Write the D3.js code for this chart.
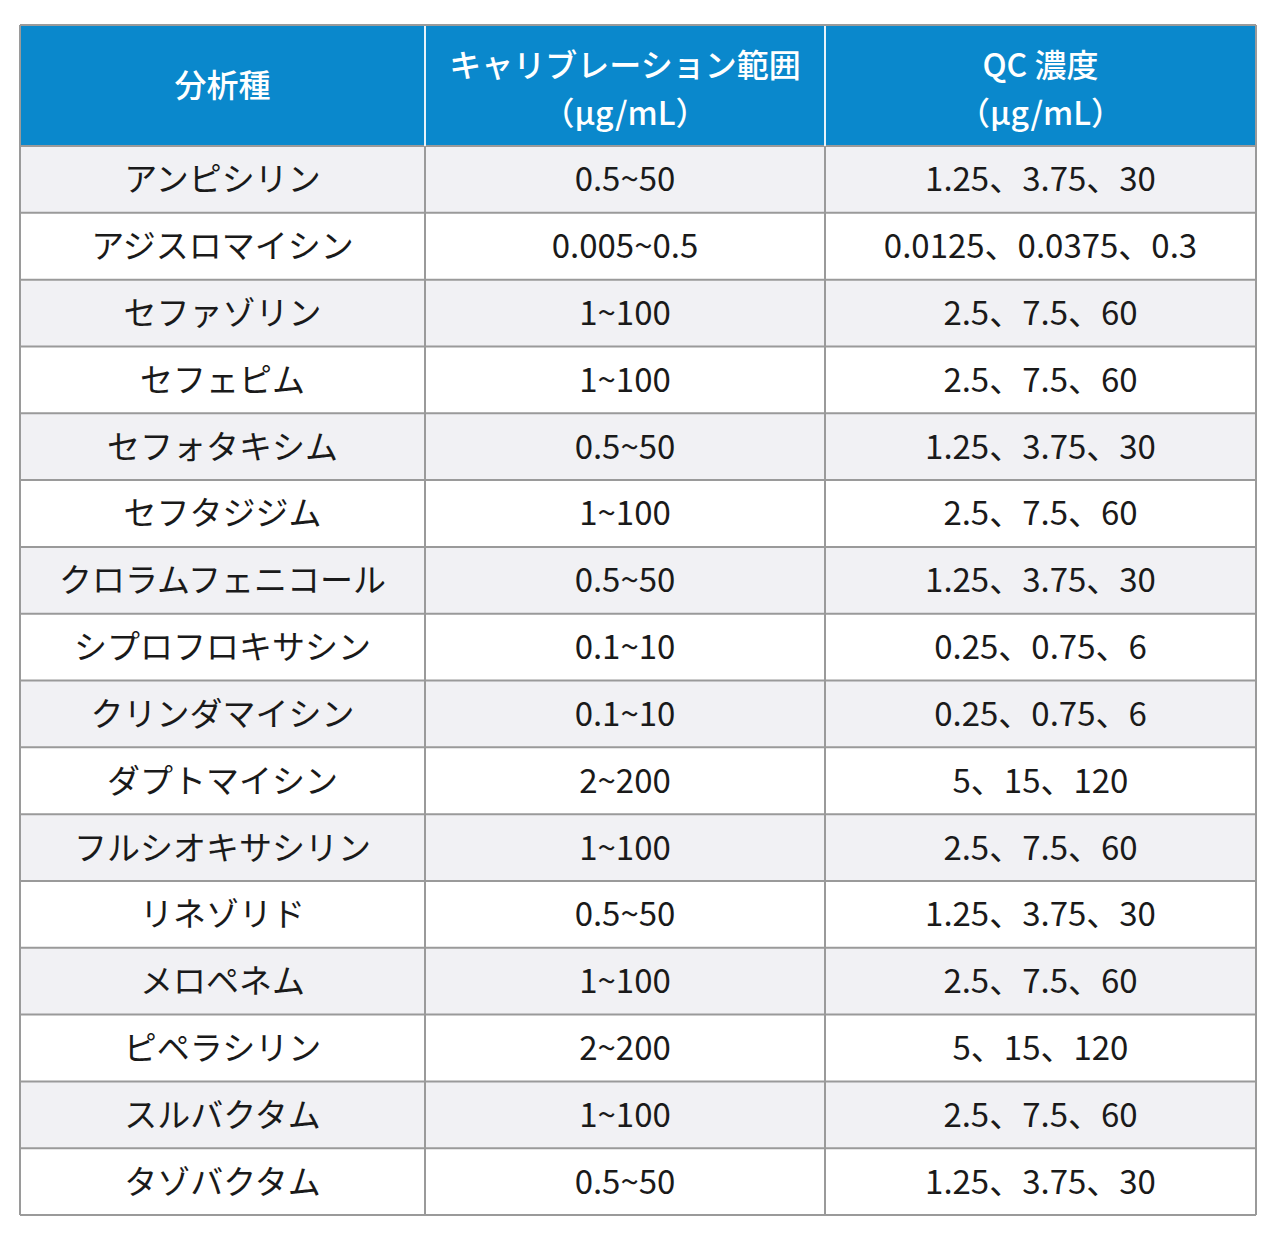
<!DOCTYPE html>
<html><head><meta charset="utf-8">
<script src="https://cdn.jsdelivr.net/npm/d3@7"></script>
<style>body{margin:0;background:#fff}</style>
</head><body>
<svg id="chart" width="1280" height="1247"></svg>
<script>
// table data
var headers = [["分析種"], ["キャリブレーション範囲", "（µg/mL）"], ["QC 濃度", "（µg/mL）"]];
var analytes = ["アンピシリン","アジスロマイシン","セファゾリン","セフェピム","セフォタキシム","セフタジジム",
  "クロラムフェニコール","シプロフロキサシン","クリンダマイシン","ダプトマイシン","フルシオキサシリン",
  "リネゾリド","メロペネム","ピペラシリン","スルバクタム","タゾバクタム"];
var calRange = ["0.5~50","0.005~0.5","1~100","1~100","0.5~50","1~100","0.5~50","0.1~10","0.1~10",
  "2~200","1~100","0.5~50","1~100","2~200","1~100","0.5~50"];
var qcConc = ["1.25、3.75、30","0.0125、0.0375、0.3","2.5、7.5、60","2.5、7.5、60","1.25、3.75、30",
  "2.5、7.5、60","1.25、3.75、30","0.25、0.75、6","0.25、0.75、6","5、15、120","2.5、7.5、60",
  "1.25、3.75、30","2.5、7.5、60","5、15、120","2.5、7.5、60","1.25、3.75、30"];

var svg = d3.select("#chart");
var tLeft = 20, tRight = 1256, tTop = 25, headH = 121, tBottom = 1215;
var colEdges = [tLeft, 425, 825, tRight];
var font = "'Noto Sans CJK JP', 'Noto Sans', sans-serif";

var y = d3.scaleBand().domain(d3.range(analytes.length)).range([tTop + headH, tBottom]);

//Header
svg.append("rect").attr("x", tLeft).attr("y", tTop).attr("width", tRight - tLeft).attr("height", headH)
  .attr("fill", "#0a88cc");
headers.forEach(function(h, i) {
  var cx = (colEdges[i] + colEdges[i + 1]) / 2;
  var t = svg.append("text").attr("x", cx).attr("text-anchor", "middle")
    .attr("fill", "#fff").style("font-family", font).style("font-size", "32px").style("font-weight", 500);
  if (h.length == 1) {
    t.append("tspan").attr("x", cx).attr("y", tTop + headH / 2 + 11).text(h[0]);
  } else {
    t.append("tspan").attr("x", cx).attr("y", tTop + 52).text(h[0]);
    t.append("tspan").attr("x", cx).attr("y", tTop + 100).text(h[1]);
  }
});

//Body rows
svg.selectAll(".row").data(analytes).enter().append("rect").attr("class", "row")
  .attr("x", tLeft).attr("y", function(d, i) { return y(i); })
  .attr("width", tRight - tLeft).attr("height", y.bandwidth())
  .attr("fill", function(d, i) { return i % 2 == 0 ? "#f1f1f4" : "#fff"; });

var cols = [analytes, calRange, qcConc];
cols.forEach(function(arr, c) {
  var cx = (colEdges[c] + colEdges[c + 1]) / 2;
  svg.selectAll(".col" + c).data(arr).enter().append("text").attr("class", "col" + c)
    .attr("x", cx).attr("y", function(d, i) { return y(i) + y.bandwidth() / 2 + 12; })
    .attr("text-anchor", "middle").attr("fill", "#1a1a1a")
    .style("font-family", font).style("font-size", "33px").text(function(d) { return d; });
});

//Grid lines
svg.selectAll(".hline").data(d3.range(analytes.length + 1)).enter().append("line").attr("class", "hline")
  .attr("x1", tLeft).attr("x2", tRight)
  .attr("y1", function(i) { return i < analytes.length ? y(i) : tBottom; })
  .attr("y2", function(i) { return i < analytes.length ? y(i) : tBottom; })
  .attr("stroke", "#9a9a9a").attr("stroke-width", 2);
colEdges.forEach(function(x, i) {
  svg.append("line").attr("x1", x).attr("x2", x).attr("y1", tTop).attr("y2", tTop + headH)
    .attr("stroke", (i == 0 || i == 3) ? "#9a9a9a" : "#e6f2fa").attr("stroke-width", 2);
  svg.append("line").attr("x1", x).attr("x2", x).attr("y1", tTop + headH).attr("y2", tBottom)
    .attr("stroke", "#9a9a9a").attr("stroke-width", 2);
});
svg.append("line").attr("x1", tLeft).attr("x2", tRight).attr("y1", tTop).attr("y2", tTop)
  .attr("stroke", "#9a9a9a").attr("stroke-width", 2);
</script>
</body></html>
